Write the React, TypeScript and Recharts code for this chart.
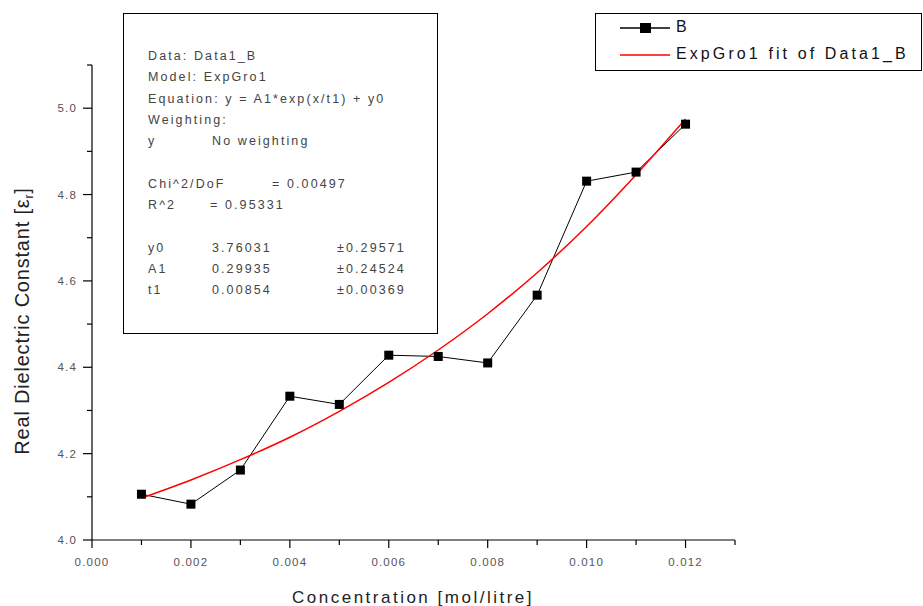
import { LineChart, Line, XAxis, YAxis, Label } from 'recharts';

const concentration = [0.001, 0.002, 0.003, 0.004, 0.005, 0.006, 0.007, 0.008, 0.009, 0.01, 0.011, 0.012];
const measured = [4.106, 4.083, 4.162, 4.333, 4.314, 4.428, 4.425, 4.41, 4.567, 4.831, 4.852, 4.963];
const fitted = [4.097, 4.139, 4.186, 4.238, 4.298, 4.365, 4.44, 4.524, 4.619, 4.726, 4.846, 4.975];

const xMajor = [0, 0.002, 0.004, 0.006, 0.008, 0.01, 0.012];
const xTicks = [0, 0.001, 0.002, 0.003, 0.004, 0.005, 0.006, 0.007, 0.008, 0.009, 0.01, 0.011, 0.012, 0.013];
const yMajor = [4.0, 4.2, 4.4, 4.6, 4.8, 5.0];
const yTicks = [4.0, 4.1, 4.2, 4.3, 4.4, 4.5, 4.6, 4.7, 4.8, 4.9, 5.0, 5.1];

const statsLines: [string, string, string][] = [
  ['Data: Data1_B', '', ''],
  ['Model: ExpGro1', '', ''],
  ['Equation: y = A1*exp(x/t1) + y0', '', ''],
  ['Weighting:', '', ''],
  ['y', 'No weighting', ''],
  ['', '', ''],
  ['Chi^2/DoF', '', '= 0.00497'],
  ['R^2', '= 0.95331', ''],
  ['', '', ''],
  ['y0', '3.76031', '±0.29571'],
  ['A1', '0.29935', '±0.24524'],
  ['t1', '0.00854', '±0.00369'],
];

const data = concentration.map((c, i) => ({ x: c, b: measured[i], fit: fitted[i] }));

const FONT = '"Liberation Sans", Arial, sans-serif';
const isMajor = (list: number[], v: number) => list.some(m => Math.abs(m - v) < 1e-9);

const XTick = ({ x, y, payload }: any) => {
  const major = isMajor(xMajor, payload.value);
  return (
    <g>
      <line x1={x} y1={y} x2={x} y2={y + (major ? 8 : 5)} stroke="#000" strokeWidth={1.2} />
      {major && (
        <text x={x} y={y + 26} textAnchor="middle" fontSize={11.5} fill="#555" fontFamily={FONT} letterSpacing={1.2}>
          {payload.value.toFixed(3)}
        </text>
      )}
    </g>
  );
};

const YTick = ({ x, y, payload }: any) => {
  const major = isMajor(yMajor, payload.value);
  return (
    <g>
      <line x1={x} y1={y} x2={x - (major ? 9 : 5)} y2={y} stroke="#000" strokeWidth={1.2} />
      {major && (
        <text x={x - 15} y={y + 4} textAnchor="end" fontSize={11.5} fill="#555" fontFamily={FONT} letterSpacing={1.2}>
          {payload.value.toFixed(1)}
        </text>
      )}
    </g>
  );
};

const Square = ({ cx, cy }: any) => <rect x={cx - 4.5} y={cy - 4.5} width={9} height={9} fill="#000" />;

export default function App() {
  return (
    <div style={{ position: 'absolute', left: 0, top: 0, width: 923, height: 606, background: '#fff' }}>
      <LineChart width={923} height={606} data={data} margin={{ top: 65, right: 188, left: 0, bottom: 0 }}>
        <XAxis
          type="number"
          dataKey="x"
          domain={[0, 0.013]}
          ticks={xTicks}
          interval={0}
          height={66}
          tickLine={false}
          tickSize={0}
          tickMargin={0}
          tick={<XTick />}
          axisLine={{ stroke: '#000', strokeWidth: 1.2 }}
        >
          <Label
            content={() => (
              <text x={413} y={603} textAnchor="middle" fontSize={17} fill="#222" fontFamily={FONT} letterSpacing={2.5}>
                Concentration  [mol/litre]
              </text>
            )}
          />
        </XAxis>
        <YAxis
          type="number"
          domain={[4.0, 5.1]}
          ticks={yTicks}
          interval={0}
          width={92}
          tickLine={false}
          tickSize={0}
          tickMargin={0}
          tick={<YTick />}
          axisLine={{ stroke: '#000', strokeWidth: 1.2 }}
        >
          <Label
            content={() => (
              <text
                x={29}
                y={321}
                textAnchor="middle"
                fontSize={20}
                fill="#222"
                fontFamily={FONT}
                letterSpacing={0.8}
                transform="rotate(-90 29 321)"
              >
                Real Dielectric Constant  [ε<tspan fontSize={12} dy={4}>r</tspan><tspan dy={-4}>]</tspan>
              </text>
            )}
          />
        </YAxis>
        <Line
          dataKey="b"
          stroke="#000"
          strokeWidth={1}
          dot={<Square />}
          isAnimationActive={false}
        />
        <Line
          type="monotone"
          dataKey="fit"
          stroke="#ff0000"
          strokeWidth={1.5}
          dot={false}
          isAnimationActive={false}
        />
      </LineChart>

      <div
        style={{
          position: 'absolute',
          left: 123,
          top: 13,
          width: 313,
          height: 319,
          border: '1.5px solid #000',
          fontFamily: FONT,
          fontSize: 12.5,
          color: '#444',
          letterSpacing: 2.1,
        }}
      >
        {statsLines.map((l, i) => (
          <div key={i} style={{ position: 'absolute', top: 35 + i * 21.3, left: 24, height: 18, width: 290 }}>
            <span style={{ position: 'absolute', left: 0, whiteSpace: 'pre' }}>{l[0]}</span>
            <span style={{ position: 'absolute', left: l[0] === 'R^2' ? 62 : 64, whiteSpace: 'pre' }}>{l[1]}</span>
            <span style={{ position: 'absolute', left: l[0] === 'Chi^2/DoF' ? 124 : 189, whiteSpace: 'pre' }}>{l[2]}</span>
          </div>
        ))}
      </div>

      <div
        style={{
          position: 'absolute',
          left: 595,
          top: 13,
          width: 325,
          height: 56,
          border: '1.5px solid #000',
          fontFamily: FONT,
          fontSize: 16,
          color: '#111',
          letterSpacing: 3.1,
        }}
      >
        <svg width={60} height={56} style={{ position: 'absolute', left: 22, top: 0 }}>
          <line x1={2} y1={14} x2={52} y2={14} stroke="#000" strokeWidth={1.5} />
          <rect x={22} y={9} width={11} height={10} fill="#000" />
          <line x1={2} y1={41} x2={52} y2={41} stroke="#ff0000" strokeWidth={1.5} />
        </svg>
        <div style={{ position: 'absolute', left: 80, top: 4 }}>B</div>
        <div style={{ position: 'absolute', left: 80, top: 31 }}>ExpGro1 fit of Data1_B</div>
      </div>
    </div>
  );
}
